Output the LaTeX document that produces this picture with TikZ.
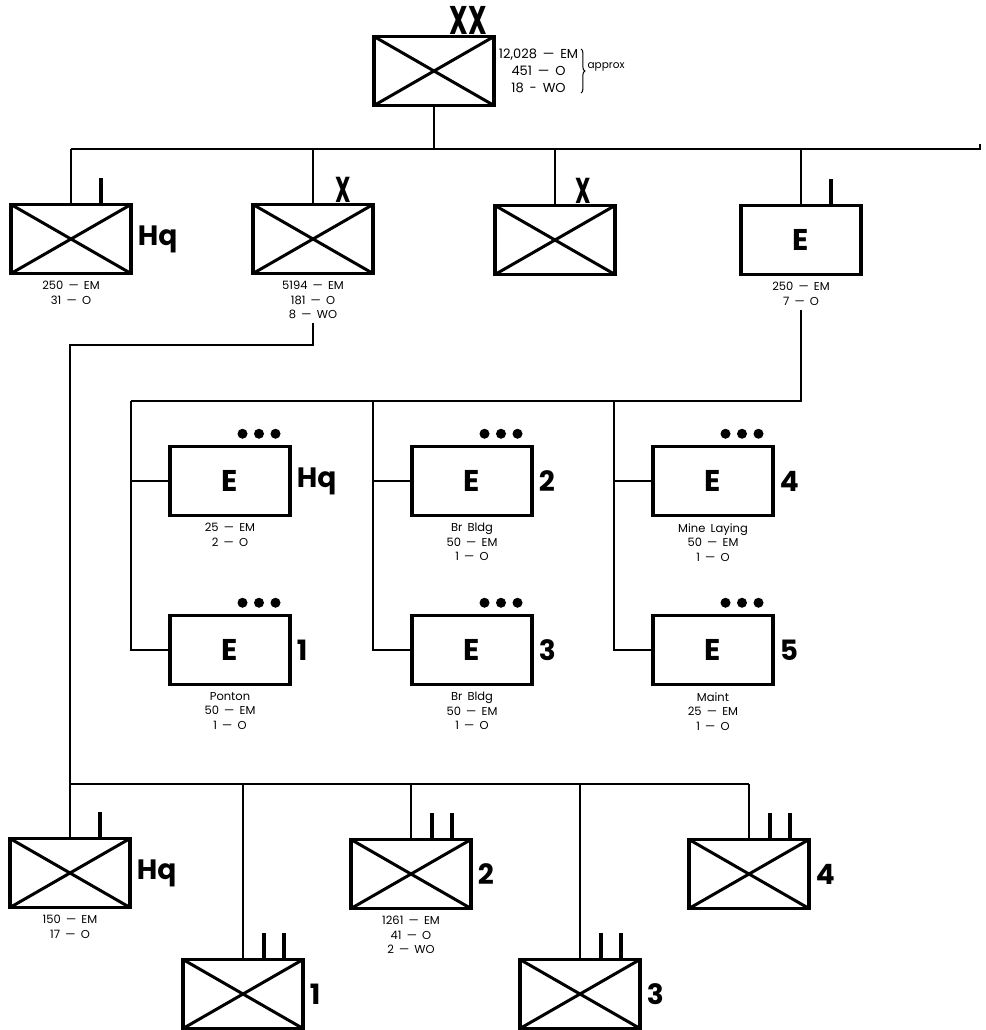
\documentclass[tikz,border=0pt]{standalone}
\usepackage{fontspec}
\usepackage{graphicx}
\setmainfont{Poppins}
\newfontfamily\chico{Poppins}[WordSpace=1.7]
\usetikzlibrary{positioning,decorations.pathreplacing}

\begin{document}
\begin{tikzpicture}[x=1pt, y=-1pt,
  caja/.style={rectangle, draw, line width=3.5pt, minimum width=120pt, minimum height=69pt, inner sep=0pt},
  cajax/.style={caja, path picture={\draw[line width=3pt] (path picture bounding box.north west) -- (path picture bounding box.south east) (path picture bounding box.south west) -- (path picture bounding box.north east);}},
  cajae/.style={caja, font=\bfseries\fontsize{30}{30}\selectfont},
  linea/.style={line width=1.6pt},
  marca/.style={line width=3.2pt},
  efectivo/.style={font=\chico\fontsize{11.5}{14.5}\selectfont, align=center, inner sep=0pt},
  etiq/.style={font=\bfseries\fontsize{28}{28}\selectfont, inner sep=0pt},
  escalon/.style={anchor=base, inner sep=0pt, font=\bfseries\fontsize{36}{36}\selectfont}
]
\useasboundingbox (0,0) rectangle (985,1030);

% division
\node[cajax] (div) at (434,71) {};
\node[escalon, font=\bfseries\fontsize{40}{40}\selectfont] (divx) at ([xshift=34pt]div.north) {\scalebox{0.65}[1]{XX}};
\node[efectivo, font=\chico\fontsize{13}{17}\selectfont, right=3pt of div] (divtxt) {12,028 — EM\\451 — O\\18 - WO};
\draw[decorate, decoration={brace, amplitude=4pt}, line width=1pt] ([xshift=2.5pt]divtxt.north east) -- ([xshift=2.5pt]divtxt.south east);
\node[font=\chico\fontsize{10.5}{12}\selectfont, inner sep=0pt, right=9pt of divtxt, yshift=4pt] (aprox) {approx};

% second level
\node[cajax] (hqA) at (71,239) {};
\node[cajax] (ccA) at (313,239) {};
\node[cajax] (ccB) at (555,240) {};
\node[cajae] (eng) at (801,240) {E};
\node[etiq, right=5pt of hqA] (hqAl) {Hq};
\node[escalon] (ccAx) at ([xshift=30pt]ccA.north) {\scalebox{0.6}[1]{X}};
\node[escalon] (ccBx) at ([xshift=28pt]ccB.north) {\scalebox{0.6}[1]{X}};
\node[efectivo, below=6pt of hqA] (hqAtxt) {250 — EM\\31 — O};
\node[efectivo, below=6pt of ccA] (ccAtxt) {5194 — EM\\181 — O\\8 — WO};
\node[efectivo, below=6pt of eng] (engtxt) {250 — EM\\7 — O};

% engineer platoons
\node[cajae] (pHq) at (230,481) {E};
\node[cajae] (p2) at (472,481) {E};
\node[cajae] (p4) at (713,481) {E};
\node[cajae] (p1) at (230,650) {E};
\node[cajae] (p3) at (472,650) {E};
\node[cajae] (p5) at (713,650) {E};
\node[etiq, right=5pt of pHq] (pHql) {Hq};
\node[etiq, right=5pt of p2] (p2l) {2};
\node[etiq, right=5pt of p4] (p4l) {4};
\node[etiq, right=5pt of p1] (p1l) {1};
\node[etiq, right=5pt of p3] (p3l) {3};
\node[etiq, right=5pt of p5] (p5l) {5};
\node[efectivo, below=6pt of pHq] (pHqtxt) {25 — EM\\2 — O};
\node[efectivo, below=6pt of p2] (p2txt) {Br Bldg\\50 — EM\\1 — O};
\node[efectivo, below=6pt of p4] (p4txt) {Mine Laying\\50 — EM\\1 — O};
\node[efectivo, below=6pt of p1] (p1txt) {Ponton\\50 — EM\\1 — O};
\node[efectivo, below=6pt of p3] (p3txt) {Br Bldg\\50 — EM\\1 — O};
\node[efectivo, below=6pt of p5] (p5txt) {Maint\\25 — EM\\1 — O};
\foreach \p in {pHq,p1,p2,p3,p4,p5}
  \foreach \dx in {12.5,29,45.5}
    \fill ([xshift=\dx pt, yshift=11pt]\p.north) circle[radius=5pt];

% battalions
\node[cajax] (bHq) at (70,873) {};
\node[cajax] (b1) at (243,994) {};
\node[cajax] (b2) at (411,874) {};
\node[cajax] (b3) at (580,994) {};
\node[cajax] (b4) at (749,874) {};
\node[etiq, right=5pt of bHq] (bHql) {Hq};
\node[etiq, right=5pt of b1] (b1l) {1};
\node[etiq, right=5pt of b2] (b2l) {2};
\node[etiq, right=5pt of b3] (b3l) {3};
\node[etiq, right=5pt of b4] (b4l) {4};
\node[efectivo, below=6pt of bHq] (bHqtxt) {150 — EM\\17 — O};
\node[efectivo, below=6pt of b2] (b2txt) {1261 — EM\\41 — O\\2 — WO};

% echelon marks
\foreach \u in {hqA,eng,bHq}
  \draw[marca] ([xshift=30pt]\u.north) -- ++(0,-25);
\foreach \u in {b1,b2,b3,b4}
  \foreach \dx in {21,41}
    \draw[marca] ([xshift=\dx pt]\u.north) -- ++(0,-25);

% connectors
\coordinate (bus1) at (0,149);
\coordinate (bus2) at (0,401);
\coordinate (bus3) at (0,784);
\coordinate (fin) at (980,149);
\coordinate (quiebre) at (313,345);
\draw[linea] (div.south) -- (div.south |- bus1);
\draw[linea] (hqA.north |- bus1) -- (fin) -- ++(0,-5);
\foreach \u in {hqA,ccA,ccB,eng}
  \draw[linea] (\u.north |- bus1) -- (\u.north);
\draw[linea] ([yshift=-4pt]ccAtxt.south) -- (quiebre) -| (bHq.north);
\draw[linea] ([yshift=-4pt]engtxt.south) |- ([xshift=-37pt]pHq.west |- bus2);
\foreach \a/\b in {pHq/p1,p2/p3,p4/p5}{
  \draw[linea] ([xshift=-37pt]\a.west |- bus2) |- (\b.west);
  \draw[linea] ([xshift=-37pt]\a.west) -- (\a.west);
}
\draw[linea] (bHq.north |- bus3) -- (b4.north |- bus3);
\foreach \u in {b1,b2,b3,b4}
  \draw[linea] (\u.north |- bus3) -- (\u.north);
\end{tikzpicture}
\end{document}
